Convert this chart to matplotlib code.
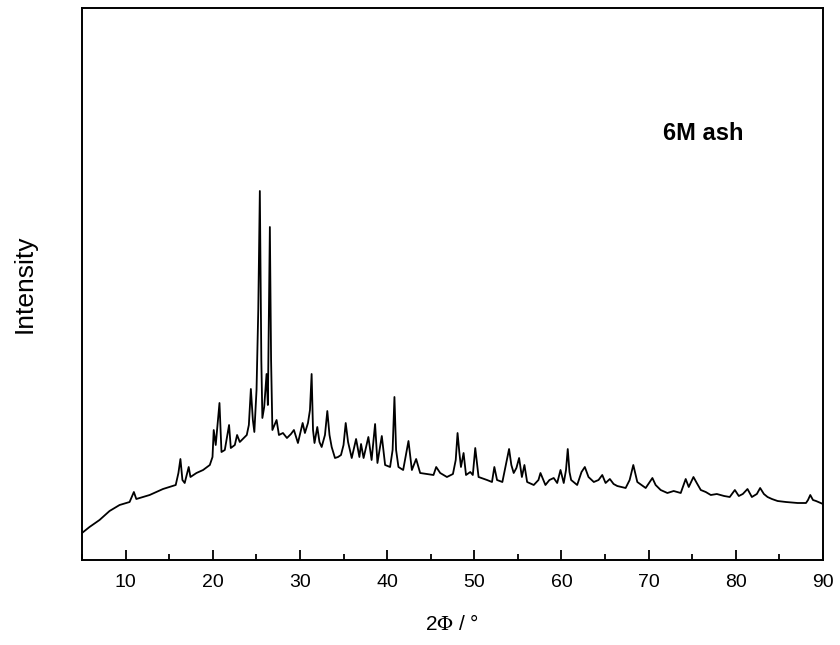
import matplotlib
matplotlib.use("Agg")
import matplotlib.pyplot as plt
from matplotlib.ticker import MultipleLocator

plt.rcParams['font.family'] = ['Liberation Sans', 'DejaVu Sans']
plt.rcParams['mathtext.fontset'] = 'stix'

two_theta = [
    5.0, 5.86, 7.01, 8.16, 9.31, 10.46, 10.95, 11.23, 12.76, 14.29, 15.75, 16.06,
    16.29, 16.52, 16.78, 17.24, 17.44, 18.13, 18.89, 19.66, 19.97, 20.11, 20.34,
    20.77, 21.0, 21.38, 21.87, 22.07, 22.53, 22.79, 23.1, 23.56, 23.9, 24.14,
    24.37, 24.6, 24.77, 25.02, 25.22, 25.4, 25.57, 25.69, 25.9, 26.17, 26.32,
    26.55, 26.69, 26.84, 27.32, 27.59, 28.05, 28.51, 28.97, 29.31, 29.77, 30.31,
    30.57, 30.92, 31.15, 31.34, 31.5, 31.67, 31.99, 32.24, 32.49, 32.87, 33.14,
    33.39, 33.64, 34.02, 34.37, 34.71, 35.0, 35.25, 35.52, 35.94, 36.44, 36.82,
    37.01, 37.3, 37.85, 38.22, 38.62, 38.89, 39.39, 39.77, 40.34, 40.63, 40.84,
    41.03, 41.3, 41.84, 42.45, 42.84, 43.33, 43.79, 44.6, 45.32, 45.63, 46.09,
    46.86, 47.55, 47.87, 48.08, 48.28, 48.47, 48.77, 49.05, 49.54, 49.83, 50.11,
    50.49, 51.46, 52.03, 52.3, 52.61, 53.22, 53.62, 53.99, 54.25, 54.52, 54.83,
    55.14, 55.46, 55.75, 56.06, 56.82, 57.36, 57.59, 58.16, 58.62, 59.11, 59.51,
    59.89, 60.26, 60.52, 60.72, 60.92, 61.11, 61.8, 62.3, 62.68, 63.1, 63.71,
    64.25, 64.68, 65.06, 65.55, 65.98, 66.4, 67.36, 67.82, 68.24, 68.51, 68.7,
    69.66, 70.43, 70.8, 71.38, 72.15, 72.87, 73.68, 74.25, 74.6, 75.14, 75.52,
    75.98, 76.55, 77.13, 77.82, 78.66, 79.3, 79.89, 80.34, 80.8, 81.34, 81.84,
    82.41, 82.79, 83.22, 83.64, 84.14, 84.79, 85.75, 87.09, 88.05, 88.28, 88.54,
    88.85, 89.2, 90.0,
]
intensity = [
    27, 33, 40, 49, 55, 58, 68, 61, 65, 71, 75, 87,
    101, 80, 77, 93, 83, 87, 90, 95, 103, 130, 115,
    157, 108, 110, 135, 112, 115, 125, 118, 122, 125, 135,
    171, 140, 128, 170, 250, 369, 200, 142, 153, 186, 155,
    333, 200, 130, 140, 125, 127, 122, 126, 130, 117, 137,
    127, 137, 150, 186, 130, 117, 133, 118, 113, 125, 149,
    125, 113, 102, 103, 105, 115, 137, 118, 102, 121, 103,
    116, 102, 123, 100, 136, 97, 124, 95, 93, 110, 163,
    110, 93, 90, 119, 90, 101, 87, 86, 85, 93, 87,
    83, 86, 100, 127, 108, 93, 107, 85, 88, 85, 112,
    83, 80, 78, 93, 80, 78, 95, 111, 95, 87, 92,
    102, 83, 95, 78, 75, 80, 87, 75, 80, 82, 77,
    90, 77, 90, 111, 88, 80, 75, 88, 93, 83, 78,
    80, 85, 77, 81, 76, 74, 72, 80, 95, 85, 78,
    72, 82, 75, 70, 67, 69, 67, 81, 73, 83, 77,
    70, 68, 65, 66, 64, 63, 70, 64, 66, 71, 63,
    66, 72, 66, 63, 61, 59, 58, 57, 57, 60, 65,
    60, 59, 56,
]

x_ticks = [10, 20, 30, 40, 50, 60, 70, 80, 90]

fig = plt.figure(figsize=(8.4, 6.45), dpi=100)
ax = fig.add_axes([82 / 840, 85 / 645, 741 / 840, 552 / 645])

ax.plot(two_theta, intensity, color='black', linewidth=1.3)

ax.set_xlim(5, 90)
ax.set_ylim(0, 552)
ax.set_xticks(x_ticks)
ax.xaxis.set_minor_locator(MultipleLocator(5))
ax.set_yticks([])
ax.tick_params(axis='x', which='major', direction='in', length=7, width=1.3,
               labelsize=14, pad=10, top=False)
ax.tick_params(axis='x', which='minor', direction='in', length=4, width=1.3, top=False)
for s in ax.spines.values():
    s.set_linewidth(1.4)

ax.set_xlabel(r'2$\Phi$ / °', fontsize=15)
ax.xaxis.set_label_coords(0.5, -0.098)
ax.set_ylabel('Intensity', fontsize=19)
ax.yaxis.set_label_coords(-0.061, 0.5)

ax.text(71.7, 420, '6M ash', fontsize=17, fontweight='bold', ha='left', va='baseline')

fig.savefig('out.png', dpi=100)
